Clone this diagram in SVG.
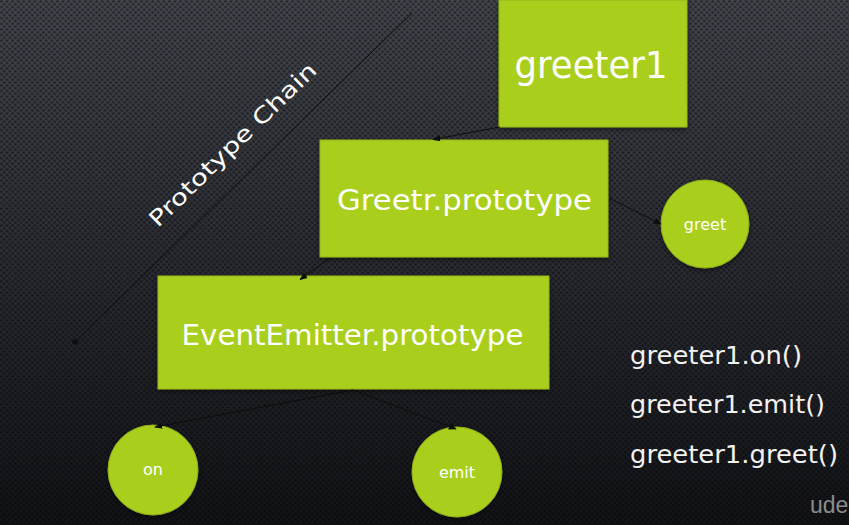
<svg xmlns="http://www.w3.org/2000/svg" width="849" height="525" viewBox="0 0 849 525">
  <defs>
    <linearGradient id="bg" x1="0" y1="0" x2="0" y2="1">
      <stop offset="0" stop-color="#41444b"/>
      <stop offset="0.45" stop-color="#2c2e34"/>
      <stop offset="1" stop-color="#121317"/>
    </linearGradient>
    <pattern id="dots" width="5.6" height="5.6" patternUnits="userSpaceOnUse">
      <circle cx="1.4" cy="1.4" r="1.25" fill="#000" fill-opacity="0.5"/>
      <circle cx="4.2" cy="4.2" r="1.25" fill="#000" fill-opacity="0.5"/>
    </pattern>
    <filter id="shadow" x="-10%" y="-10%" width="120%" height="130%">
      <feDropShadow dx="0" dy="2" stdDeviation="2.5" flood-color="#000" flood-opacity="0.45"/>
    </filter>
    <marker id="arrow" viewBox="0 0 10 10" refX="9" refY="5" markerWidth="8" markerHeight="8" orient="auto" markerUnits="userSpaceOnUse">
      <path d="M0,1 L10,5 L0,9 z" fill="#0d0d0d"/>
    </marker>
    <marker id="dot" viewBox="0 0 10 10" refX="5" refY="5" markerWidth="6" markerHeight="6" markerUnits="userSpaceOnUse">
      <circle cx="5" cy="5" r="4.5" fill="#0d0d0d"/>
    </marker>
  </defs>
  <style>
    .box { fill: #a9cf1e; stroke: #93b61a; stroke-width: 1; filter: url(#shadow); }
    .bubble { fill: #a9cf1e; stroke: #8fae1a; stroke-width: 1; filter: url(#shadow); }
    .label { font-family: "DejaVu Sans", "Liberation Sans", sans-serif; fill: #ffffff; text-anchor: middle; }
    .big { font-size: 38px; }
    .mid { font-size: 29px; }
    .small { font-size: 16px; }
    .calls { font-family: "DejaVu Sans", "Liberation Sans", sans-serif; font-size: 24px; fill: #f2f2f2; }
    .edge { stroke: #0d0d0d; stroke-width: 1; fill: none; marker-end: url(#arrow); }
  </style>

  <!-- background with perforated texture -->
  <rect width="849" height="525" fill="url(#bg)"/>
  <rect width="849" height="525" fill="url(#dots)"/>

  <!-- prototype chain axis -->
  <g id="chain-axis">
    <line x1="412" y1="13" x2="75" y2="342" stroke="#0d0d0d" stroke-width="1" marker-end="url(#dot)"/>
    <text class="label" font-size="22" transform="translate(238,150) rotate(-44.3)" textLength="224" lengthAdjust="spacingAndGlyphs">Prototype Chain</text>
  </g>

  <g id="greeter1">
    <rect class="box" x="499" y="0" width="188" height="127"/>
    <text class="label big" x="591" y="78" textLength="153" lengthAdjust="spacingAndGlyphs">greeter1</text>
  </g>

  <g id="greetr-prototype">
    <rect class="box" x="320" y="140" width="288" height="117"/>
    <text class="label mid" x="464.5" y="210" textLength="255" lengthAdjust="spacingAndGlyphs">Greetr.prototype</text>
  </g>

  <g id="eventemitter-prototype">
    <rect class="box" x="158" y="276" width="391" height="113"/>
    <text class="label mid" x="352.5" y="345" textLength="342" lengthAdjust="spacingAndGlyphs">EventEmitter.prototype</text>
  </g>

  <g id="greet">
    <circle class="bubble" cx="705" cy="224" r="44"/>
    <text class="label small" x="705" y="230">greet</text>
  </g>

  <g id="on">
    <circle class="bubble" cx="153" cy="470" r="45"/>
    <text class="label small" x="153" y="475">on</text>
  </g>

  <g id="emit">
    <circle class="bubble" cx="457" cy="472" r="45"/>
    <text class="label small" x="457" y="478">emit</text>
  </g>

  <!-- connectors, drawn over the shapes so the heads show -->
  <g id="connectors">
    <line class="edge" x1="500" y1="127" x2="433" y2="139.5"/>
    <line class="edge" x1="609" y1="198" x2="661" y2="224"/>
    <line class="edge" x1="330" y1="258" x2="300" y2="279.5"/>
    <line class="edge" x1="353" y1="390" x2="155" y2="427"/>
    <line class="edge" x1="353" y1="390" x2="456" y2="429"/>
  </g>

  <!-- inherited method calls -->
  <g id="calls">
    <text class="calls" x="630" y="364" textLength="172" lengthAdjust="spacingAndGlyphs">greeter1.on()</text>
    <text class="calls" x="630" y="413" textLength="195" lengthAdjust="spacingAndGlyphs">greeter1.emit()</text>
    <text class="calls" x="630" y="463" textLength="208" lengthAdjust="spacingAndGlyphs">greeter1.greet()</text>
  </g>

  <text x="810" y="513" font-family="Liberation Sans, sans-serif" font-size="23" fill="#8c8c8e">ude</text>
</svg>
